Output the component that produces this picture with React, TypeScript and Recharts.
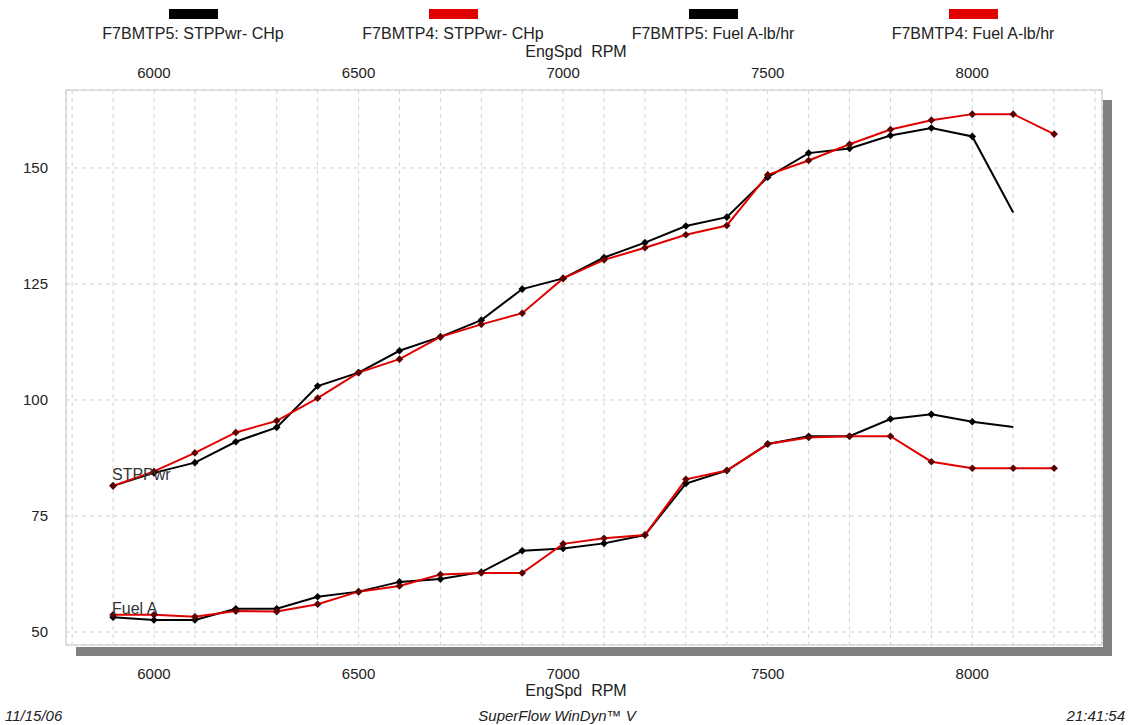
import React from "react";
import { LineChart, Line, XAxis, YAxis, CartesianGrid } from "recharts";

// engine speed, RPM
const rpm = [
  5900, 6000, 6100, 6200, 6300, 6400, 6500, 6600, 6700, 6800, 6900, 7000,
  7100, 7200, 7300, 7400, 7500, 7600, 7700, 7800, 7900, 8000, 8100, 8200,
];

// STPPwr CHp
const tp5Power = [
  81.5, 84.3, 86.5, 91.0, 94.1, 103.0, 105.9, 110.6, 113.6, 117.2, 123.9, 126.2,
  130.7, 133.9, 137.5, 139.4, 148.0, 153.2, 154.2, 157.0, 158.6, 156.8, 140.4, null,
];
const tp4Power = [
  81.5, 84.6, 88.6, 93.0, 95.5, 100.4, 105.9, 108.8, 113.6, 116.3, 118.7, 126.2,
  130.2, 132.8, 135.6, 137.6, 148.5, 151.6, 155.1, 158.3, 160.3, 161.6, 161.6, 157.3,
];

// Fuel A lb/hr
const tp5Fuel = [
  53.2, 52.6, 52.6, 55.0, 55.0, 57.6, 58.7, 60.8, 61.4, 62.9, 67.5, 68.0,
  69.1, 70.9, 82.0, 84.8, 90.5, 92.2, 92.2, 95.9, 96.9, 95.3, 94.2, null,
];
const tp4Fuel = [
  53.7, 53.7, 53.3, 54.5, 54.4, 56.0, 58.7, 59.9, 62.4, 62.7, 62.7, 69.0,
  70.2, 70.9, 82.9, 84.8, 90.5, 91.9, 92.2, 92.2, 86.7, 85.3, 85.3, 85.3,
];

const rpmGridTicks = [
  5800, 5900, 6000, 6100, 6200, 6300, 6400, 6500, 6600, 6700, 6800, 6900, 7000,
  7100, 7200, 7300, 7400, 7500, 7600, 7700, 7800, 7900, 8000, 8100, 8200, 8300,
];
const rpmLabelTicks = [6000, 6500, 7000, 7500, 8000];
const yTicks = [50, 75, 100, 125, 150];

const legendItems = [
  { label: "F7BMTP5: STPPwr- CHp", color: "#000000" },
  { label: "F7BMTP4: STPPwr- CHp", color: "#e00000" },
  { label: "F7BMTP5: Fuel A-lb/hr", color: "#000000" },
  { label: "F7BMTP4: Fuel A-lb/hr", color: "#e00000" },
];

const data = rpm.map((r, i) => ({
  rpm: r,
  tp5Power: tp5Power[i],
  tp4Power: tp4Power[i],
  tp5Fuel: tp5Fuel[i],
  tp4Fuel: tp4Fuel[i],
}));

const FONT = "'Liberation Sans', Arial, sans-serif";
const TEXT = "#222";
const RPM_DOMAIN = [5785, 8317];
const Y_DOMAIN = [47.2, 166.8];

// diamond markers; the black runs stop without a marker on their last point
const diamond = (fill: string, values: (number | null)[], skipLast: boolean) => {
  let last = -1;
  values.forEach((v, i) => {
    if (v != null) last = i;
  });
  return (props: any) => {
    const { cx, cy, index } = props;
    if (cx == null || cy == null || values[index] == null || (skipLast && index === last)) {
      return <g key={`d${index}`} />;
    }
    const r = 3.8;
    return (
      <path
        key={`d${index}`}
        d={`M${cx},${cy - r}L${cx + r},${cy}L${cx},${cy + r}L${cx - r},${cy}Z`}
        fill={fill}
      />
    );
  };
};

const tickStyle = { fill: TEXT, fontSize: 15, fontFamily: FONT };

export default function App() {
  return (
    <div
      style={{
        position: "absolute",
        left: 0,
        top: 0,
        width: 1131,
        height: 725,
        background: "#fff",
        fontFamily: FONT,
        color: TEXT,
      }}
    >
      {/* drop shadow of the plot frame */}
      <div style={{ position: "absolute", left: 1103, top: 100, width: 9, height: 556, background: "#808080" }} />
      <div style={{ position: "absolute", left: 76, top: 647, width: 1036, height: 9, background: "#808080" }} />

      <LineChart
        width={1131}
        height={725}
        data={data}
        margin={{ top: 0, right: 28, bottom: 0, left: 0 }}
        style={{ position: "absolute", left: 0, top: 0 }}
      >
        <CartesianGrid xAxisId="bottom" yAxisId="left" stroke="#d2d2d2" strokeDasharray="4 4" />
        <XAxis
          xAxisId="bottom"
          dataKey="rpm"
          type="number"
          domain={RPM_DOMAIN}
          allowDataOverflow
          ticks={rpmGridTicks}
          interval={0}
          tickFormatter={(v: number) => (v % 500 === 0 ? String(v) : "")}
          height={80}
          tickLine={false}
          tickSize={0}
          tickMargin={23}
          axisLine={{ stroke: "#c8c8c8" }}
          tick={tickStyle}
        />
        <XAxis
          xAxisId="top"
          dataKey="rpm"
          orientation="top"
          type="number"
          domain={RPM_DOMAIN}
          allowDataOverflow
          ticks={rpmLabelTicks}
          interval={0}
          height={90}
          tickLine={false}
          tickSize={0}
          tickMargin={12}
          axisLine={{ stroke: "#c8c8c8" }}
          tick={tickStyle}
        />
        <YAxis
          yAxisId="left"
          type="number"
          domain={Y_DOMAIN}
          allowDataOverflow
          ticks={yTicks}
          interval={0}
          width={66}
          tickLine={false}
          tickSize={0}
          tickMargin={18}
          axisLine={{ stroke: "#c8c8c8" }}
          tick={tickStyle}
        />
        <YAxis
          yAxisId="right"
          orientation="right"
          type="number"
          domain={Y_DOMAIN}
          allowDataOverflow
          width={1}
          tick={false}
          tickLine={false}
          axisLine={{ stroke: "#c8c8c8" }}
        />
        {/* invisible carrier so the top RPM axis and right frame axis get a scale */}
        <Line
          xAxisId="top"
          yAxisId="right"
          dataKey="tp4Power"
          stroke="none"
          dot={false}
          activeDot={false}
          legendType="none"
          isAnimationActive={false}
        />
        <Line
          xAxisId="bottom"
          yAxisId="left"
          dataKey="tp5Power"
          type="linear"
          stroke="#000"
          strokeWidth={2}
          dot={diamond("#000", tp5Power, true)}
          isAnimationActive={false}
        />
        <Line
          xAxisId="bottom"
          yAxisId="left"
          dataKey="tp4Power"
          type="linear"
          stroke="#e00000"
          strokeWidth={2}
          dot={diamond("#5c0000", tp4Power, false)}
          isAnimationActive={false}
        />
        <Line
          xAxisId="bottom"
          yAxisId="left"
          dataKey="tp5Fuel"
          type="linear"
          stroke="#000"
          strokeWidth={2}
          dot={diamond("#000", tp5Fuel, true)}
          isAnimationActive={false}
        />
        <Line
          xAxisId="bottom"
          yAxisId="left"
          dataKey="tp4Fuel"
          type="linear"
          stroke="#e00000"
          strokeWidth={2}
          dot={diamond("#5c0000", tp4Fuel, false)}
          isAnimationActive={false}
        />
      </LineChart>

      {/* legend */}
      {legendItems.map((item, i) => (
        <div
          key={item.label}
          style={{
            position: "absolute",
            left: 193 + i * 260 - 110,
            top: 9,
            width: 220,
            textAlign: "center",
          }}
        >
          <div style={{ width: 49, height: 10, background: item.color, margin: "0 auto" }} />
          <div style={{ fontSize: 16, lineHeight: "18px", marginTop: 6, whiteSpace: "pre" }}>{item.label}</div>
        </div>
      ))}

      <div style={{ position: "absolute", left: 476, width: 200, top: 43, textAlign: "center", fontSize: 16, whiteSpace: "pre", lineHeight: "18px" }}>
        EngSpd  RPM
      </div>
      <div style={{ position: "absolute", left: 476, width: 200, top: 682, textAlign: "center", fontSize: 16, whiteSpace: "pre", lineHeight: "18px" }}>
        EngSpd  RPM
      </div>

      <div style={{ position: "absolute", left: 112, top: 466, fontSize: 16, color: "#333", lineHeight: "18px" }}>STPPwr</div>
      <div style={{ position: "absolute", left: 112, top: 600, fontSize: 16, color: "#333", lineHeight: "18px" }}>Fuel A</div>

      <div style={{ position: "absolute", left: 5, top: 707, fontSize: 15, fontStyle: "italic", lineHeight: "18px" }}>11/15/06</div>
      <div style={{ position: "absolute", left: 407, width: 300, top: 707, textAlign: "center", fontSize: 15, fontStyle: "italic", lineHeight: "18px" }}>
        SuperFlow WinDyn™ V
      </div>
      <div style={{ position: "absolute", right: 6, top: 707, fontSize: 15, fontStyle: "italic", lineHeight: "18px" }}>21:41:54</div>
    </div>
  );
}
